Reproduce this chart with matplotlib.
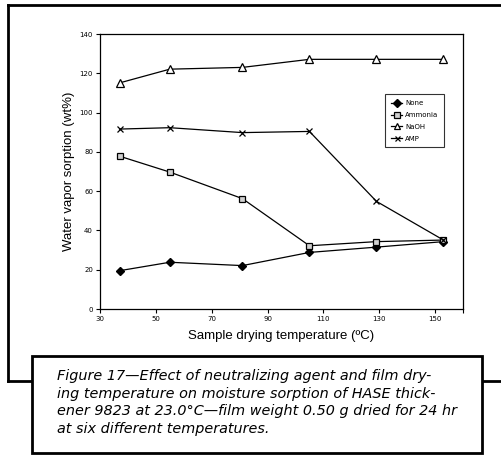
import matplotlib
matplotlib.use("Agg")
import matplotlib.pyplot as plt
from matplotlib.lines import Line2D
from matplotlib.patches import Rectangle

# drying temperatures (deg C) and sorption (wt%) per neutralizing agent
temps = [37, 55, 81, 105, 129, 153]
none_vals = [19.5, 23.8, 22.1, 28.8, 31.5, 34.3]
ammonia_vals = [77.8, 69.7, 56.2, 32.2, 34.3, 35.1]
naoh_vals = [115.1, 122.1, 123.0, 127.1, 127.1, 127.1]
amp_vals = [91.6, 92.3, 89.8, 90.4, 54.8, 35.1]

x_ticks = [30, 50, 70, 90, 110, 130, 150]
y_ticks = [0, 20, 40, 60, 80, 100, 120, 140]

W, H = 502, 455
fig = plt.figure(figsize=(W / 100, H / 100), dpi=100)
fig.patch.set_facecolor("white")


def px(x, y):
    return x / W, 1 - y / H


ax = fig.add_axes([100 / W, 1 - 309 / H, 363 / W, 275 / H])
ax.plot(temps, none_vals, color="black", lw=0.9, marker="D", ms=4.5,
        mfc="black", mec="black", label="None")
ax.plot(temps, ammonia_vals, color="black", lw=0.9, marker="s", ms=5,
        mfc="#d0d0d0", mec="black", mew=0.9, label="Ammonia")
ax.plot(temps, naoh_vals, color="black", lw=0.9, marker="^", ms=5.5,
        mfc="white", mec="black", mew=0.9, label="NaOH")
ax.plot(temps, amp_vals, color="black", lw=0.9, marker="x", ms=4.5,
        mec="black", mew=0.9, label="AMP")

ax.set_xlim(30, 160)
ax.set_ylim(0, 140)
ax.set_xticks(x_ticks + [160])
ax.set_xticklabels([str(t) for t in x_ticks] + [""])
ax.set_yticks(y_ticks)
ax.tick_params(direction="out", length=3, width=0.8, labelsize=5, pad=2)
for s in ax.spines.values():
    s.set_linewidth(0.9)

ax.set_xlabel("Sample drying temperature (\u00baC)", fontsize=9.5,
              family="Liberation Sans", labelpad=6)
ax.set_ylabel("Water vapor sorption (wt%)", fontsize=9.5,
              family="Liberation Sans", labelpad=3)

leg = ax.legend(loc="upper left", bbox_to_anchor=(282 / 363, 1 - 57 / 275),
                fontsize=5, frameon=True, fancybox=False, edgecolor="black",
                handlelength=1.6, labelspacing=0.85, borderpad=0.8,
                handletextpad=0.4, markerscale=0.8)
leg.get_frame().set_linewidth(0.8)

# outer frame around the plot
frame = dict(color="black", lw=2, transform=fig.transFigure)
fig.add_artist(Line2D(*zip(px(8, 5), px(8, 381)), **frame))
fig.add_artist(Line2D(*zip(px(8, 5), px(502, 5)), **frame))
fig.add_artist(Line2D(*zip(px(8, 381), px(502, 381)), **frame))

# caption box
x0, y0 = px(32, 453)
fig.add_artist(Rectangle((x0, y0), 450 / W, 97 / H, transform=fig.transFigure,
                         facecolor="white", edgecolor="black", lw=2, zorder=5))
caption = ("Figure 17\u2014Effect of neutralizing agent and film dry-\n"
           "ing temperature on moisture sorption of HASE thick-\n"
           "ener 9823 at 23.0\u00b0C\u2014film weight 0.50 g dried for 24 hr\n"
           "at six different temperatures.")
tx, ty = px(57, 369)
fig.text(tx, ty, caption, ha="left", va="top", fontsize=10.4, style="italic",
         family="DejaVu Sans", linespacing=1.32, zorder=6)

fig.savefig("out.png", dpi=100)
